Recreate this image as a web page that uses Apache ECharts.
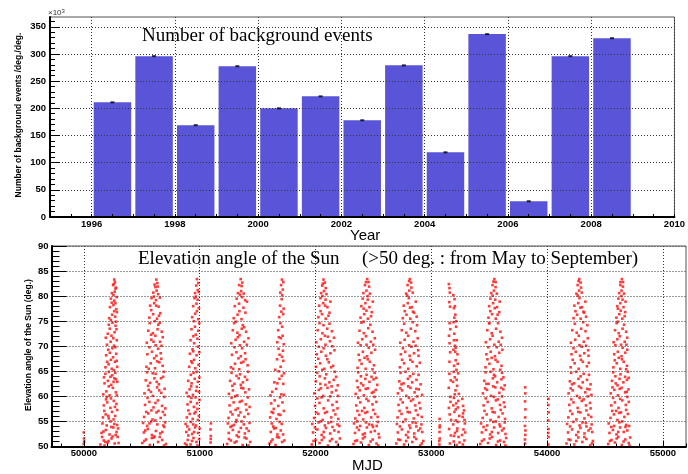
<!DOCTYPE html>
<html>
<head>
<meta charset="utf-8">
<script src="https://cdn.jsdelivr.net/npm/echarts@6/dist/echarts.min.js"></script>
<style>
html, body { margin: 0; padding: 0; background: #fff; }
#main { width: 688px; height: 474px; }
</style>
</head>
<body>
<div id="main"></div>
<script>
// top panel: yearly background counts (x10^3)
var yearBins = [1996, 1997, 1998, 1999, 2000, 2001, 2002, 2003, 2004, 2005, 2006, 2007, 2008];
var bgCounts = [211, 296, 169, 277.5, 200, 222, 178, 279, 119, 336.5, 29, 296, 329];
var yearTicks = [1996, 1998, 2000, 2002, 2004, 2006, 2008, 2010];
var yearMinorTicks = [1995.5, 1996, 1996.5, 1997, 1997.5, 1998, 1998.5, 1999, 1999.5, 2000, 2000.5, 2001, 2001.5,
    2002, 2002.5, 2003, 2003.5, 2004, 2004.5, 2005, 2005.5, 2006, 2006.5, 2007, 2007.5, 2008, 2008.5, 2009, 2009.5];
var countTicks = [0, 50, 100, 150, 200, 250, 300, 350];
var countMinorTicks = [10, 20, 30, 40, 60, 70, 80, 90, 110, 120, 130, 140, 160, 170, 180, 190, 210, 220, 230, 240,
    260, 270, 280, 290, 310, 320, 330, 340, 360];

// bottom panel: sun elevation of events, [MJD, deg]
var mjdTicks = [50000, 51000, 52000, 53000, 54000, 55000];
var mjdMinorTicks = [49800, 50200, 50400, 50600, 50800, 51200, 51400, 51600, 51800, 52200, 52400, 52600, 52800,
    53200, 53400, 53600, 53800, 54200, 54400, 54600, 54800, 55200];

var sunStrips = [[49998,50.5],[50001,51.6],[49999,52.8],[50002,51.0],
    [51094,50.8],[51096,52.1],[51093,53.4],[51097,54.6],[51095,51.5],
    [53810,50.6],[53812,52.3],[53809,54.1],[53811,55.8],[53813,57.4],[53810,59.0],[53812,60.6],[53811,61.8],[53809,51.4],[53813,53.2],
    [54011,50.4],[54013,51.9],[54012,53.5],[54010,55.2],[54013,56.8],[54011,58.3],[54012,59.5],[54010,52.7]];

var sun1996 = [[50143,50.4],[50171,51.2],[50205,50.8],[50238,51.6],[50266,50.6],[50291,51.9],[50152,52.7],[50189,53.3],[50221,52.4],[50254,53.8],[50282,52.9],[50160,54.6],[50197,54.2],[50230,55.0],[50262,54.5],[50295,53.6],[50178,50.2],[50247,52.0],
    [50164,55.8],[50188,56.4],[50215,55.6],[50243,56.9],[50270,56.1],[50287,57.3],[50172,58.2],[50201,58.8],[50229,57.7],[50258,59.1],[50281,58.5],[50167,60.4],[50194,61.0],[50222,60.2],[50250,61.7],[50276,60.8],[50178,62.6],[50207,63.1],[50236,62.3],[50263,63.6],[50288,62.9],[50185,64.5],[50215,64.9],[50244,64.2],[50271,64.7],[50198,59.9],
    [50186,65.8],[50213,66.4],[50240,65.5],[50268,66.9],[50287,65.9],[50192,68.2],[50224,68.7],[50252,67.8],[50279,68.5],[50199,70.3],[50231,70.9],[50260,70.1],[50284,71.2],[50206,72.5],[50238,72.1],[50265,72.8],[50281,73.4],[50215,74.3],[50247,74.7],[50273,74.1],
    [50218,75.6],[50244,76.3],[50270,75.9],[50285,76.8],[50225,77.8],[50255,78.2],[50279,77.4],[50233,79.5],[50262,79.1],[50283,79.8],
    [50242,80.6],[50266,80.9],[50277,81.7],[50252,82.2],[50268,82.8],[50262,83.3],
    [50157,51.9],[50213,51.1],[50274,52.3],[50186,50.9],[50299,50.7],[50236,53.9],[50169,53.0],[50287,54.3],[50211,56.1],[50256,55.4],[50176,57.1],[50233,59.6],[50268,57.9],[50191,59.4],[50284,60.2],[50214,62.0],[50256,62.9],[50173,63.8],[50229,63.9],[50277,63.4],[50201,66.9],[50259,65.2],[50233,67.3],[50283,67.1],[50210,69.3],[50246,69.6],[50272,69.8],[50189,71.7],[50254,71.6],[50223,73.5],[50277,74.9],[50233,75.2],[50261,77.0],[50241,78.7],[50272,78.6],[50255,80.2],[50273,81.5],[50258,82.4]];

var sun1997 = [[50504,50.7],[50537,51.4],[50569,50.3],[50603,51.8],[50641,50.9],[50676,51.3],[50709,50.5],[50518,52.8],[50552,53.5],[50588,52.3],[50622,53.1],[50659,52.6],[50694,53.9],[50511,54.7],[50546,54.1],[50581,55.0],[50634,54.4],[50701,54.8],
    [50520,55.9],[50556,56.6],[50592,55.4],[50627,56.8],[50663,55.7],[50698,56.3],[50528,58.3],[50565,58.9],[50601,57.8],[50639,59.2],[50675,58.1],[50703,57.6],[50523,60.6],[50560,61.3],[50596,60.1],[50632,61.8],[50668,60.7],[50697,61.5],[50534,63.2],[50571,62.7],[50609,63.6],[50647,62.4],[50684,63.9],[50545,64.8],[50619,64.5],[50690,64.9],
    [50540,65.9],[50577,66.6],[50614,65.6],[50651,66.8],[50680,66.1],[50548,68.4],[50588,68.9],[50626,68.1],[50663,68.6],[50543,70.7],[50582,71.3],[50620,70.2],[50657,70.9],[50681,71.8],[50556,73.1],[50596,72.6],[50636,73.4],[50672,72.9],[50568,74.6],[50642,74.3],
    [50565,75.7],[50598,76.4],[50631,75.5],[50660,76.6],[50572,78.1],[50607,78.6],[50645,77.9],[50584,79.6],[50622,79.2],[50656,79.7],
    [50599,80.7],[50628,81.1],[50641,80.4],[50610,82.3],[50634,82.6],[50625,83.3],
    [50522,51.1],[50587,51.7],[50655,51.9],[50692,50.2],[50530,53.2],[50610,52.0],[50676,52.9],[50566,54.6],[50617,55.2],[50686,54.2],[50539,56.9],[50644,57.1],[50682,56.9],[50583,57.2],[50549,59.7],[50618,58.7],[50694,59.9],[50578,60.9],[50650,61.2],[50554,62.1],[50629,62.9],[50666,63.6],[50594,64.6],[50560,65.5],[50632,67.0],[50668,67.5],[50607,67.6],[50565,69.8],[50641,69.5],[50601,70.9],[50670,70.1],[50617,72.1],[50580,72.3],[50655,74.7],[50612,75.0],[50581,77.2],[50648,76.1],[50624,78.1],[50603,79.9],[50617,81.8],[50637,81.9]];

var sun1998 = [[50873,50.6],[50897,51.3],[50921,50.4],[50946,51.7],[50972,50.9],[50995,51.5],[50884,52.9],[50909,53.4],[50935,52.5],[50960,53.8],[50986,52.7],[50878,54.5],[50923,54.9],[50968,54.2],
    [50889,55.8],[50914,56.5],[50940,55.5],[50965,56.9],[50992,56.1],[50895,58.4],[50922,58.9],[50950,57.9],[50977,58.6],[50998,59.3],[50887,60.7],[50913,61.4],[50941,60.3],[50969,61.1],[50994,60.9],[50901,63.1],[50930,62.6],[50957,63.5],[50984,62.9],[50947,64.7],
    [50909,65.9],[50936,66.7],[50962,65.6],[50990,66.3],[50915,68.5],[50944,69.0],[50973,68.2],[50996,68.8],[50921,71.2],[50952,70.6],[50981,71.5],[50929,73.4],[50959,73.9],[50988,73.1],
    [50935,75.8],[50961,76.5],[50987,75.4],[50944,78.0],[50972,78.5],[50993,77.6],[50955,79.6],[50982,79.3],
    [50960,80.6],[50983,81.2],[50970,82.1],[50988,82.6],[50976,83.4],
    [50888,50.3],[50934,51.1],[50981,50.2],[50902,52.2],[50951,52.9],[50999,53.6],[50893,54.0],[50944,54.4],[50985,55.3],[50902,57.2],[50955,56.6],[50981,57.5],[50928,59.7],[50964,59.8],[50904,60.0],[50926,62.0],[50975,61.9],[50996,63.8],[50923,64.3],[50975,64.9],[50951,67.3],[50927,67.0],[50985,69.9],[50938,69.4],[50966,72.3],[50945,72.0],[50996,74.6],[50950,75.0],[50976,77.0],[50966,79.9],[50992,80.8]];

var sun1999 = [[51237,50.5],[51269,51.2],[51302,50.8],[51336,51.9],[51371,50.3],[51404,51.6],[51436,50.9],[51251,52.7],[51286,53.3],[51320,52.2],[51355,53.7],[51390,52.6],[51423,53.1],[51243,54.6],[51279,54.1],[51313,54.9],[51381,54.4],[51430,54.7],
    [51249,55.7],[51283,56.4],[51318,55.3],[51352,56.8],[51386,55.9],[51420,56.5],[51258,58.2],[51293,58.8],[51329,57.6],[51364,59.1],[51398,58.4],[51431,57.9],[51252,60.5],[51287,61.2],[51323,60.2],[51359,61.7],[51394,60.8],[51426,61.4],[51263,63.1],[51300,62.5],[51337,63.6],[51373,62.8],[51409,63.3],[51275,64.7],[51348,64.4],[51418,64.9],
    [51270,65.8],[51305,66.5],[51341,65.4],[51377,66.9],[51414,66.2],[51279,68.3],[51317,68.8],[51355,68.0],[51392,68.6],[51272,70.6],[51310,71.3],[51347,70.2],[51384,70.9],[51421,71.6],[51286,73.2],[51325,72.7],[51363,73.5],[51401,72.9],[51297,74.6],[51372,74.2],
    [51294,75.6],[51327,76.3],[51361,75.4],[51395,76.7],[51303,78.0],[51340,78.5],[51378,77.7],[51408,78.9],[51319,79.5],[51365,79.8],
    [51330,80.6],[51358,81.0],[51380,80.5],[51341,82.2],[51367,82.7],[51354,83.4],
    [51252,51.5],[51318,51.0],[51388,51.8],[51421,50.2],[51266,53.9],[51338,52.9],[51405,53.6],[51296,54.3],[51362,55.0],[51267,56.9],[51336,56.2],[51404,57.3],[51310,57.3],[51275,59.7],[51346,58.9],[51415,59.8],[51306,60.0],[51376,61.6],[51282,62.1],[51355,62.3],[51391,63.9],[51318,64.1],[51289,65.5],[51358,66.7],[51396,67.4],[51335,67.6],[51300,69.8],[51366,69.6],[51407,70.3],[51329,71.8],[51344,72.2],[51384,73.8],[51312,74.9],[51343,77.0],[51392,79.2],[51348,80.3],[51362,82.0]];

var sun2000 = [[51603,50.6],[51629,51.4],[51655,50.3],[51684,51.8],[51712,50.9],[51731,51.2],[51614,52.9],[51642,53.6],[51671,52.4],[51700,53.2],[51622,54.6],[51690,54.9],
    [51608,55.8],[51634,56.7],[51663,55.5],[51697,56.3],[51727,57.1],[51617,58.6],[51648,59.2],[51679,58.1],[51715,58.8],[51626,60.9],[51660,61.5],[51705,60.4],
    [51645,62.8],[51689,63.5],[51722,62.5],[51652,65.3],[51699,65.9],[51728,64.6],[51668,67.4],[51711,67.9],[51681,69.5],[51719,69.1],
    [51670,70.8],[51701,71.6],[51726,70.4],[51678,73.2],[51712,73.9],[51686,75.8],[51721,76.4],[51694,78.1],[51725,77.5],[51708,79.4],
    [51696,80.7],[51718,81.3],[51703,82.2],[51722,82.8],[51710,83.3],
    [51617,51.0],[51668,51.9],[51720,52.4],[51635,54.0],[51657,53.7],[51709,54.5],[51621,56.9],[51681,56.4],[51611,60.2],[51640,57.5],[51694,59.8],[51728,60.3],[51671,62.6],[51709,64.1],[51683,65.0],[51690,68.3],[51722,67.1],[51684,71.8],[51697,74.6],[51716,72.1],[51705,76.9],[51712,80.2]];

var sun2001 = [[51968,50.4],[52001,51.3],[52035,50.7],[52072,51.8],[52108,50.2],[52143,51.5],[52179,50.9],[52211,51.6],[51979,52.8],[52016,53.4],[52053,52.3],[52090,53.7],[52127,52.6],[52163,53.2],[52199,52.9],[51972,54.5],[52026,54.8],[52081,54.2],[52136,54.9],[52190,54.4],
    [51988,55.7],[52025,56.5],[52062,55.3],[52099,56.9],[52136,55.8],[52172,56.4],[52197,55.5],[51996,58.1],[52034,58.7],[52071,57.6],[52109,59.2],[52146,58.3],[52183,58.9],[51990,60.6],[52029,61.3],[52066,60.1],[52104,61.7],[52141,60.8],[52178,61.2],[52003,63.0],[52042,62.5],[52081,63.6],[52120,62.8],[52158,63.3],[52192,62.2],[52014,64.7],[52093,64.4],[52166,64.9],
    [52004,65.9],[52040,66.6],[52077,65.5],[52115,66.8],[52152,66.1],[52011,68.4],[52050,68.9],[52090,68.1],[52129,68.6],[52164,69.2],[52007,70.8],[52046,71.4],[52086,70.3],[52125,71.0],[52160,71.7],[52019,73.2],[52060,72.6],[52101,73.5],[52142,73.0],[52035,74.6],
    [52025,75.8],[52056,76.4],[52089,75.5],[52121,76.7],[52032,78.1],[52067,78.6],[52103,77.8],[52129,78.9],[52043,79.6],[52087,79.3],
    [52049,80.6],[52073,81.0],[52095,80.4],[52058,82.1],[52081,82.7],[52069,83.3],
    [51983,51.1],[52055,51.3],[52125,51.1],[52194,50.3],[51995,53.8],[52071,52.9],[52147,53.9],[52206,54.1],[52045,55.0],[52112,54.7],[52005,56.8],[52082,56.7],[52155,57.2],[52190,57.6],[52016,59.6],[52052,59.8],[52127,60.0],[52194,60.1],[52047,61.6],[52086,62.3],[52139,62.0],[52178,63.9],[52036,64.0],[52059,65.3],[52135,65.8],[52024,67.5],[52102,67.4],[52070,69.6],[52145,70.0],[52029,69.9],[52107,71.9],[52081,72.1],[52121,74.5],[52069,74.2],[52044,77.0],[52112,76.1],[52083,78.1],[52060,80.0],[52088,81.6],[52064,82.5]];

var sun2002 = [[52328,50.5],[52359,51.2],[52392,50.8],[52426,51.9],[52461,50.3],[52494,51.4],[52527,50.6],[52551,51.8],[52341,52.7],[52375,53.3],[52409,52.4],[52444,53.8],[52478,52.9],[52512,53.1],[52545,52.5],[52333,54.6],[52386,54.1],[52436,54.8],[52489,54.3],[52538,54.9],
    [52344,55.6],[52378,56.3],[52412,55.4],[52447,56.9],[52481,55.8],[52515,56.5],[52537,55.9],[52352,58.2],[52387,58.8],[52422,57.7],[52457,59.1],[52492,58.4],[52526,58.9],[52347,60.5],[52382,61.2],[52417,60.2],[52452,61.6],[52487,60.7],[52521,61.3],[52358,63.1],[52394,62.6],[52430,63.5],[52466,62.9],[52502,63.4],[52533,62.3],[52369,64.8],[52441,64.3],[52511,64.7],
    [52364,65.7],[52398,66.5],[52433,65.5],[52469,66.9],[52505,66.2],[52373,68.3],[52409,68.9],[52446,68.0],[52483,68.7],[52514,69.3],[52367,70.7],[52404,71.4],[52441,70.3],[52478,70.9],[52512,71.6],[52380,73.1],[52418,72.6],[52456,73.6],[52493,72.9],[52397,74.7],
    [52389,75.7],[52421,76.4],[52453,75.5],[52486,76.8],[52396,78.0],[52431,78.6],[52466,77.8],[52495,78.9],[52408,79.5],[52452,79.3],
    [52414,80.6],[52440,81.1],[52470,80.5],[52427,82.2],[52458,82.8],[52447,83.4],
    [52343,51.1],[52410,51.6],[52476,51.0],[52542,50.2],[52358,53.8],[52426,52.6],[52497,53.9],[52361,55.0],[52463,54.4],[52529,54.1],[52362,57.1],[52430,56.7],[52499,57.3],[52403,57.1],[52370,59.7],[52440,59.5],[52510,59.9],[52365,61.8],[52434,61.5],[52502,60.9],[52412,62.2],[52484,63.9],[52392,64.0],[52525,63.7],[52381,67.2],[52451,67.4],[52492,65.4],[52424,67.7],[52389,70.2],[52460,69.7],[52499,70.3],[52436,72.0],[52474,74.3],[52415,74.9],[52440,77.1],[52480,76.0],[52416,77.5],[52450,80.0],[52463,81.9],[52436,82.8]];

var sun2003 = [[52698,50.6],[52731,51.3],[52765,50.4],[52800,51.8],[52836,50.9],[52870,51.5],[52904,50.2],[52931,51.1],[52711,52.8],[52746,53.4],[52782,52.3],[52818,53.7],[52853,52.6],[52889,53.2],[52922,52.9],[52703,54.5],[52757,54.9],[52811,54.2],[52866,54.7],[52915,54.4],
    [52709,55.8],[52743,56.5],[52778,55.4],[52813,56.8],[52849,55.6],[52884,56.3],[52918,55.9],[52717,58.3],[52753,58.8],[52789,57.7],[52825,59.1],[52861,58.2],[52897,58.7],[52712,60.6],[52748,61.2],[52784,60.1],[52820,61.7],[52856,60.8],[52892,61.4],[52921,60.3],[52724,63.0],[52761,62.6],[52798,63.5],[52835,62.8],[52872,63.3],[52908,62.4],[52735,64.7],[52845,64.5],
    [52729,65.8],[52765,66.6],[52801,65.5],[52838,66.9],[52874,66.0],[52901,66.7],[52737,68.4],[52775,68.9],[52813,68.1],[52851,68.6],[52887,69.2],[52732,70.7],[52770,71.3],[52808,70.2],[52846,70.9],[52883,71.6],[52745,73.2],[52784,72.7],[52823,73.5],[52862,73.0],
    [52754,75.6],[52786,76.3],[52819,75.5],[52852,76.7],[52874,75.9],[52762,78.1],[52797,78.6],[52833,77.8],[52866,78.9],[52806,79.6],
    [52783,80.5],[52810,81.1],[52840,80.7],[52795,82.2],[52826,82.7],[52815,83.4],
    [52715,51.4],[52783,51.1],[52853,51.9],[52918,50.6],[52729,54.0],[52801,52.9],[52871,54.0],[52905,53.6],[52839,54.8],[52726,57.1],[52796,56.9],[52866,57.2],[52905,57.6],[52735,59.4],[52807,59.7],[52878,60.0],[52843,59.4],[52731,61.6],[52801,62.0],[52871,61.5],[52743,62.4],[52816,64.0],[52890,64.3],[52777,64.9],[52748,67.3],[52819,67.3],[52890,68.1],[52755,69.6],[52828,69.9],[52865,70.1],[52800,72.1],[52840,74.8],[52766,74.5],[52877,74.2],[52771,77.0],[52842,76.9],[52816,77.7],[52792,80.1],[52828,81.7],[52808,83.0]];

var sun2004 = [[53070,50.4],[53073,51.6],[53071,52.9],[53074,54.2],[53072,55.5],[53069,51.1],[53072,53.8],
    [53152,82.4],[53157,81.6],[53160,80.7],[53155,78.8],[53162,77.9],[53158,74.6],[53165,73.4],[53153,72.1],[53163,68.8],[53156,64.5],[53168,63.2],[53151,61.7],[53166,58.9],[53159,56.4],[53154,53.5],[53169,52.2],[53161,50.6],[53157,66.9],[53171,55.3],[53158,70.6],[53164,59.9],[53152,57.7],
    [53190,80.2],[53201,79.4],[53196,77.6],[53208,76.3],[53193,74.8],[53214,73.9],[53199,72.5],[53220,71.2],[53205,70.1],[53191,69.3],[53226,68.4],[53211,67.2],[53197,66.1],[53217,65.3],[53232,64.6],[53203,63.8],[53188,62.9],[53223,62.1],[53209,61.2],[53238,60.5],[53195,59.7],[53215,58.6],[53229,57.8],[53200,56.9],[53242,56.1],[53212,55.2],[53189,54.4],[53225,53.6],[53205,52.7],[53236,51.9],[53194,51.0],[53219,50.3],[53244,50.8],[53230,54.9],[53207,68.9],[53199,75.7],
    [53196,52.1],[53222,53.1],[53212,57.4],[53190,58.2],[53233,59.1],[53203,60.4],[53219,63.3],[53194,64.9],[53228,66.5],[53210,69.7],[53196,71.2],[53216,75.0],[53204,78.0],
    [53268,59.5],[53275,58.1],[53283,57.2],[53271,55.9],[53290,54.6],[53278,53.4],[53266,52.3],[53286,51.2],[53273,50.4],[53293,52.8],[53274,56.6],[53287,55.3]];

var sun2005 = [[53423,50.5],[53456,51.4],[53490,50.7],[53525,51.9],[53560,50.3],[53594,51.2],[53628,50.9],[53647,51.7],[53437,52.8],[53472,53.3],[53508,52.4],[53543,53.8],[53578,52.7],[53612,53.2],[53641,52.5],[53430,54.6],[53483,54.2],[53536,54.9],[53589,54.4],[53634,54.8],
    [53444,55.7],[53478,56.4],[53512,55.3],[53547,56.8],[53582,55.9],[53616,56.6],[53637,55.5],[53452,58.2],[53487,58.9],[53522,57.6],[53558,59.2],[53593,58.3],[53627,58.8],[53446,60.6],[53481,61.3],[53517,60.1],[53553,61.8],[53588,60.7],[53622,61.4],[53458,63.1],[53495,62.5],[53532,63.6],[53569,62.8],[53606,63.4],[53634,62.2],[53469,64.8],[53542,64.3],[53611,64.7],
    [53468,65.8],[53502,66.5],[53537,65.4],[53573,66.9],[53607,66.1],[53476,68.4],[53513,68.9],[53550,68.0],[53587,68.7],[53614,69.3],[53471,70.8],[53508,71.4],[53545,70.3],[53582,70.9],[53611,71.7],[53484,73.2],[53522,72.6],[53560,73.5],[53597,72.9],[53500,74.6],
    [53494,75.7],[53525,76.4],[53557,75.5],[53587,76.8],[53500,78.0],[53534,78.6],[53568,77.8],[53591,78.9],[53511,79.5],[53552,79.3],
    [53518,80.6],[53541,81.1],[53566,80.5],[53529,82.2],[53556,82.8],[53545,83.4],
    [53438,51.1],[53505,51.6],[53576,51.0],[53640,50.2],[53452,53.9],[53523,52.9],[53595,54.0],[53626,53.6],[53557,55.0],[53460,57.1],[53530,56.9],[53600,57.3],[53635,57.9],[53470,59.6],[53540,59.9],[53611,60.0],[53575,59.4],[53465,61.6],[53535,62.0],[53604,61.7],[53476,62.5],[53551,64.0],[53623,63.8],[53512,64.9],[53485,67.4],[53555,67.3],[53595,65.3],[53522,67.7],[53492,69.8],[53565,69.8],[53600,70.3],[53530,72.1],[53577,74.6],[53500,74.6],[53510,77.0],[53573,76.3],[53548,77.6],[53530,80.1],[53555,81.8],[53537,82.9]];

var sun2007 = [[54168,50.6],[54201,51.3],[54235,50.4],[54270,51.8],[54305,50.9],[54340,51.5],[54373,50.2],[54396,51.1],[54181,52.8],[54216,53.4],[54252,52.3],[54288,53.7],[54323,52.6],[54358,53.2],[54390,52.9],[54173,54.5],[54227,54.9],[54281,54.2],[54335,54.7],[54385,54.4],
    [54184,55.8],[54218,56.5],[54253,55.4],[54288,56.8],[54323,55.6],[54357,56.3],[54381,55.9],[54192,58.3],[54228,58.8],[54264,57.7],[54300,59.1],[54336,58.2],[54371,58.7],[54186,60.6],[54222,61.2],[54258,60.1],[54294,61.7],[54330,60.8],[54366,61.4],[54383,60.3],[54197,63.0],[54234,62.6],[54271,63.5],[54308,62.8],[54345,63.3],[54376,62.4],[54208,64.7],[54316,64.5],
    [54204,65.8],[54238,66.6],[54273,65.5],[54309,66.9],[54344,66.0],[54361,66.7],[54211,68.4],[54248,68.9],[54285,68.1],[54322,68.6],[54355,69.2],[54206,70.7],[54243,71.3],[54280,70.2],[54317,70.9],[54352,71.6],[54218,73.2],[54256,72.7],[54294,73.5],[54332,73.0],
    [54229,75.6],[54259,76.3],[54290,75.5],[54320,76.7],[54337,75.9],[54236,78.1],[54269,78.6],[54302,77.8],[54331,78.9],[54280,79.6],
    [54254,80.5],[54277,81.1],[54300,80.7],[54264,82.2],[54290,82.7],[54278,83.4],
    [54186,51.4],[54252,51.1],[54322,51.9],[54388,50.6],[54199,54.0],[54269,52.9],[54340,54.0],[54375,53.6],[54306,54.8],[54200,57.1],[54270,56.9],[54340,57.2],[54376,57.6],[54209,59.4],[54281,59.7],[54352,60.0],[54316,59.4],[54204,61.6],[54276,62.0],[54346,61.5],[54216,62.4],[54290,64.0],[54362,64.3],[54252,64.9],[54222,67.3],[54293,67.3],[54358,68.1],[54228,69.6],[54300,69.9],[54337,70.1],[54274,72.1],[54312,74.8],[54240,74.5],[54348,74.2],[54245,77.0],[54314,76.9],[54288,77.7],[54265,80.1],[54293,81.7],[54272,83.0]];

var sun2008 = [[54528,50.5],[54557,51.3],[54586,50.8],[54616,51.9],[54646,50.3],[54676,51.4],[54705,50.7],[54718,51.8],[54539,52.7],[54569,53.3],[54600,52.4],[54631,53.8],[54662,52.9],[54693,53.2],[54532,54.6],[54579,54.1],[54625,54.8],[54684,54.3],
    [54548,55.7],[54578,56.4],[54608,55.3],[54638,56.8],[54668,55.9],[54698,56.5],[54555,58.2],[54586,58.8],[54617,57.7],[54649,59.2],[54680,58.3],[54706,58.9],[54550,60.6],[54581,61.3],[54612,60.2],[54644,61.7],[54675,60.8],[54703,61.4],[54561,63.1],[54593,62.6],[54626,63.5],[54659,62.8],[54690,63.3],[54571,64.8],[54634,64.4],[54697,64.9],
    [54573,65.8],[54602,66.6],[54632,65.5],[54662,66.9],[54690,66.1],[54580,68.4],[54611,68.9],[54643,68.0],[54675,68.7],[54693,69.3],[54575,70.8],[54607,71.4],[54639,70.3],[54671,70.9],[54692,71.7],[54587,73.2],[54619,72.6],[54652,73.5],[54683,72.9],[54601,74.6],
    [54599,75.7],[54624,76.4],[54650,75.5],[54675,76.8],[54606,78.0],[54633,78.6],[54660,77.8],[54678,78.9],[54616,79.5],[54652,79.3],
    [54623,80.6],[54643,81.1],[54664,80.5],[54633,82.2],[54656,82.8],[54646,83.4],
    [54543,51.1],[54601,51.6],[54661,51.0],[54712,50.2],[54555,53.9],[54615,52.9],[54677,53.9],[54709,54.1],[54650,55.0],[54563,57.1],[54623,56.7],[54683,57.3],[54597,57.1],[54570,59.7],[54631,59.5],[54692,59.9],[54565,61.8],[54627,61.5],[54688,60.9],[54609,62.2],[54674,63.9],[54590,64.0],[54705,63.7],[54585,67.2],[54647,67.4],[54683,65.4],[54619,67.7],[54590,70.2],[54653,69.7],[54685,70.3],[54628,72.0],[54665,74.3],[54610,74.9],[54636,77.1],[54670,76.0],[54612,77.5],[54642,80.0],[54655,81.9],[54634,82.8]];

var sunPoints = [].concat(sunStrips, sun1996, sun1997, sun1998, sun1999, sun2000, sun2001,
    sun2002, sun2003, sun2004, sun2005, sun2007, sun2008);

var labelFont = {
    color: '#000',
    fontFamily: 'Liberation Sans',
    fontWeight: 'bold',
    fontSize: 9.5,
    formatter: function (v) { return String(v); }
};
var gridDots = { show: true, lineStyle: { color: '#333', type: [1, 2], width: 1 } };
var blackLine = { show: true, onZero: false, lineStyle: { color: '#000', width: 2 } };

function renderChart(chart) {
    var barData = yearBins.map(function (y, i) { return [y + 0.5, bgCounts[i]]; });

    var option = {
        animation: false,
        grid: [
            { left: 50, top: 17, width: 635, height: 200, show: true, borderColor: '#555', borderWidth: 1 },
            { left: 51.5, top: 246, width: 634.5, height: 200.5, show: true, borderColor: '#555', borderWidth: 1 }
        ],
        xAxis: [{
            type: 'value', gridIndex: 0, min: 1995, max: 2010, z: 3,
            axisLine: blackLine,
            axisTick: { show: true, inside: true, length: 3, customValues: yearTicks, lineStyle: { color: '#000' } },
            axisLabel: Object.assign({ customValues: yearTicks, margin: 2 }, labelFont),
            splitLine: gridDots
        }, {
            type: 'value', gridIndex: 0, min: 1995, max: 2010, position: 'bottom', z: 3,
            axisLine: { show: false },
            axisTick: { show: true, inside: true, length: 3, customValues: yearMinorTicks, lineStyle: { color: '#000' } },
            axisLabel: { show: false },
            splitLine: { show: false }
        }, {
            type: 'value', gridIndex: 1, min: 49720, max: 55200, z: 3,
            axisLine: blackLine,
            axisTick: { show: true, inside: true, length: 6, customValues: mjdTicks, lineStyle: { color: '#000' } },
            axisLabel: Object.assign({ customValues: mjdTicks, margin: 2 }, labelFont),
            splitLine: gridDots
        }, {
            type: 'value', gridIndex: 1, min: 49720, max: 55200, position: 'bottom', z: 3,
            axisLine: { show: false },
            axisTick: { show: true, inside: true, length: 3, customValues: mjdMinorTicks, lineStyle: { color: '#000' } },
            axisLabel: { show: false },
            splitLine: { show: false }
        }],
        yAxis: [{
            type: 'value', gridIndex: 0, min: 0, max: 368, z: 3,
            axisLine: blackLine,
            axisTick: { show: true, inside: true, length: 10, customValues: countTicks, lineStyle: { color: '#000' } },
            axisLabel: Object.assign({ customValues: countTicks, margin: 4 }, labelFont),
            splitLine: gridDots
        }, {
            type: 'value', gridIndex: 0, min: 0, max: 368, position: 'left', z: 3,
            axisLine: { show: false },
            axisTick: { show: true, inside: true, length: 5, customValues: countMinorTicks, lineStyle: { color: '#000' } },
            axisLabel: { show: false },
            splitLine: { show: false }
        }, {
            type: 'value', gridIndex: 1, min: 50, max: 90, interval: 5, z: 3,
            axisLine: blackLine,
            axisTick: { show: true, inside: true, length: 15, lineStyle: { color: '#000' } },
            minorTick: { show: true, splitNumber: 5, length: 8, lineStyle: { color: '#000' } },
            axisLabel: Object.assign({ margin: 3 }, labelFont),
            splitLine: gridDots
        }],
        series: [{
            name: 'background',
            type: 'bar',
            xAxisIndex: 0,
            yAxisIndex: 0,
            barWidth: '90%',
            itemStyle: { color: '#5954d8' },
            data: barData
        }, {
            name: 'errors',
            type: 'scatter',
            xAxisIndex: 0,
            yAxisIndex: 0,
            symbol: 'rect',
            symbolSize: [4, 2],
            itemStyle: { color: '#000' },
            z: 4,
            data: barData
        }, {
            name: 'sun',
            type: 'scatter',
            xAxisIndex: 2,
            yAxisIndex: 2,
            symbol: 'rect',
            symbolSize: 2.6,
            itemStyle: { color: '#ff1a1a', opacity: 0.85 },
            data: sunPoints
        }],
        graphic: [
            { type: 'text', left: 142, top: 27, style: { text: 'Number of background events', font: '19px "Liberation Serif"', fill: '#000' } },
            { type: 'text', left: 138, top: 250, style: { text: 'Elevation angle of the Sun', font: '19px "Liberation Serif"', fill: '#000' } },
            { type: 'text', left: 362, top: 250, style: { text: '(>50 deg. : from May to September)', font: '19px "Liberation Serif"', fill: '#000' } },
            { type: 'text', left: 350, top: 228, style: { text: 'Year', font: '15px "Liberation Sans"', fill: '#000' } },
            { type: 'text', left: 352, top: 458, style: { text: 'MJD', font: '15px "Liberation Sans"', fill: '#000' } },
            {
                type: 'text', x: 19, y: 115, rotation: Math.PI / 2,
                style: { text: 'Number of background events /deg./deg.', font: 'bold 8.5px "Liberation Sans"', fill: '#000', align: 'center', verticalAlign: 'middle' }
            },
            {
                type: 'text', x: 29, y: 345, rotation: Math.PI / 2,
                style: { text: 'Elevation angle of the Sun (deg.)', font: 'bold 8.5px "Liberation Sans"', fill: '#000', align: 'center', verticalAlign: 'middle' }
            },
            {
                type: 'text', left: 48, top: 8,
                style: {
                    text: '×10{sup|3}', font: '8px "Liberation Sans"', fill: '#333',
                    rich: { sup: { fontSize: 6, verticalAlign: 'top', padding: [0, 0, 4, 0] } }
                }
            }
        ]
    };
    chart.setOption(option, true);
}

renderChart(echarts.init(document.getElementById('main')));
</script>
</body>
</html>
